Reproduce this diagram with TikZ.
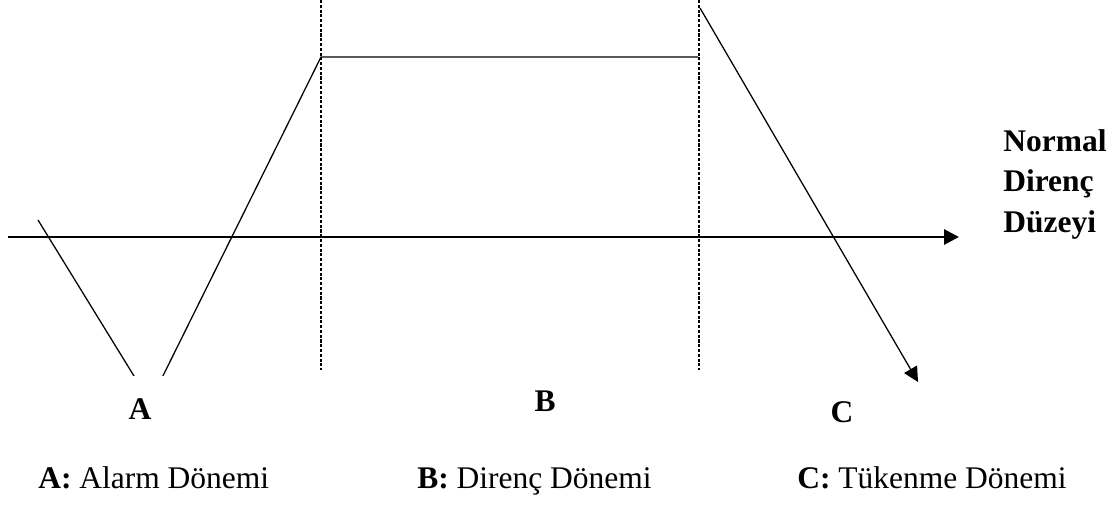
\documentclass[tikz,border=0pt]{standalone}
\usepackage{fontspec}
\setmainfont{Liberation Serif}
\usetikzlibrary{arrows.meta,positioning}
\begin{document}
\begin{tikzpicture}[x=0.025cm,y=-0.025cm,>={Triangle[length=10.5pt,width=10.5pt]},font=\fontsize{22.4}{29}\selectfont]
\tikzstyle{ln}=[line width=0.9pt]
\tikzstyle{sep}=[line width=1.3pt,dash pattern=on 2.2pt off 1.2pt]
\tikzstyle{lbl}=[fill=white,font=\fontsize{22.4}{29}\selectfont\bfseries,text height=0.3cm,text depth=0.3cm]
\tikzstyle{legend}=[anchor=base west,inner sep=0pt]
\useasboundingbox (0,0) rectangle (1117,506);
% curve points and axis ends
\coordinate (s0) at (38,220); \coordinate (v) at (150,402); \coordinate (p1) at (321,57); \coordinate (p2) at (698,57);
\coordinate (p3) at (700,8); \coordinate (p4) at (918,382);
\coordinate (ax0) at (8,237); \coordinate (ax1) at (959,237);
\foreach \x/\n in {321/d1,699/d2} { \coordinate (\n t) at (\x,0); \coordinate (\n b) at (\x,370); \draw[sep] (\n t) -- (\n b); }
\draw[->,line width=2pt] (ax0) -- (ax1);
\draw[ln] (s0) -- (v) -- (p1) -- (p2);
\draw[ln,->] (p3) -- (p4);
% period letters
\node[lbl,minimum width=1.825cm,minimum height=2.125cm] (A) at (140,419) {A};
\node[lbl,minimum width=1.95cm,minimum height=2.1cm] (B) at (545,411) {B};
\node[lbl,minimum width=1.65cm,minimum height=2.1cm] (C) at (842,422) {C};
\node[anchor=north west,align=left,inner sep=0pt,font=\fontsize{22.4}{29}\selectfont\bfseries] (lvl) at (1003,129) {Normal\\Direnç\\Düzeyi};
% legend
\node[legend] (legA) at (38,488) {\textbf{A:} Alarm Dönemi};
\node[legend] (legB) at (417,488) {\textbf{B:} Direnç Dönemi};
\node[legend] (legC) at (797,488) {\textbf{C:} Tükenme Dönemi};
\end{tikzpicture}
\end{document}
